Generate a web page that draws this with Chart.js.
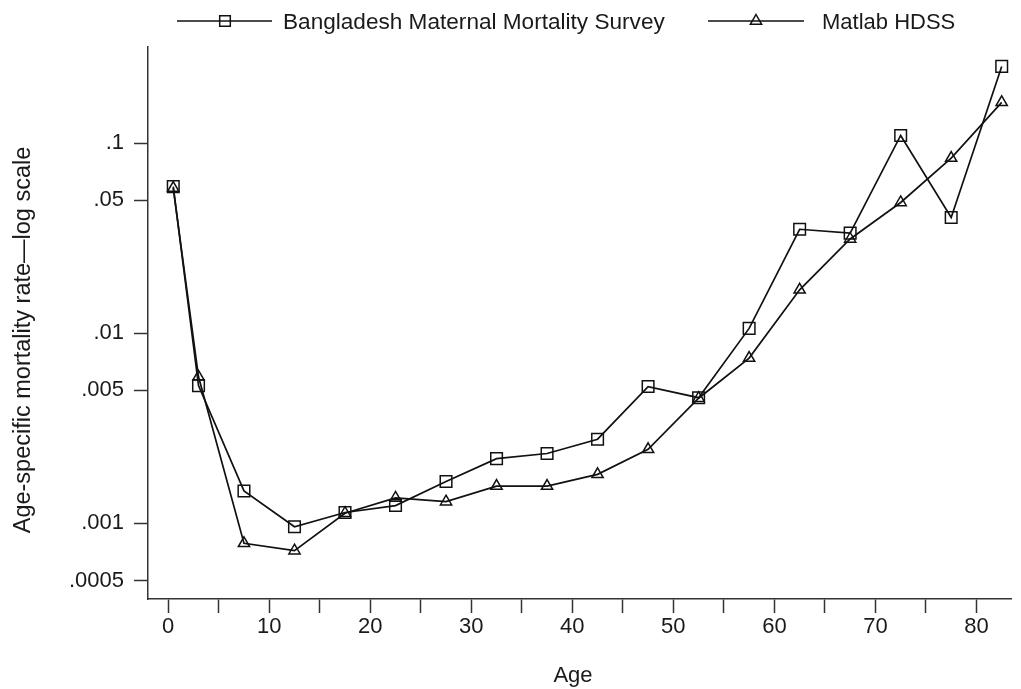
<!DOCTYPE html>
<html>
<head>
<meta charset="utf-8">
<script src="https://cdn.jsdelivr.net/npm/chart.js@4.4.1/dist/chart.umd.min.js"></script>
<style>
  html, body { margin: 0; padding: 0; background: #fff; }
  #wrap { width: 1021px; height: 689px; }
</style>
</head>
<body>
<div id="wrap"><canvas id="myChart"></canvas></div>
<script>
// data
const ages = [0.5, 3, 7.5, 12.5, 17.5, 22.5, 27.5, 32.5, 37.5, 42.5, 47.5, 52.5, 57.5, 62.5, 67.5, 72.5, 77.5, 82.5];
const bmmsRates = [0.059, 0.0053, 0.00148, 0.00096, 0.00114, 0.00124, 0.00166, 0.00219, 0.00233, 0.00277, 0.00524, 0.00458, 0.0106, 0.0352, 0.0336, 0.1096, 0.0406, 0.253];
const matlabRates = [0.058, 0.0059, 0.000785, 0.000718, 0.00113, 0.00136, 0.0013, 0.00157, 0.00157, 0.00181, 0.00245, 0.00455, 0.0074, 0.0169, 0.0313, 0.0487, 0.0834, 0.1637];
const seriesNames = ['Bangladesh Maternal Mortality Survey', 'Matlab HDSS'];
const xTicks = [0, 5, 10, 15, 20, 25, 30, 35, 40, 45, 50, 55, 60, 65, 70, 75, 80];
const yTicks = [0.0005, 0.001, 0.005, 0.01, 0.05, 0.1];
const yTickLabels = ['.0005', '.001', '.005', '.01', '.05', '.1'];
const xTitle = 'Age';
const yTitle = 'Age-specific mortality rate\u2014log scale';

const FONT_FAMILY = '"Liberation Sans", Arial, sans-serif';
const INK = '#1a1a1a';
const AXIS = '#333';

function toPoints(vals) {
  return ages.map(function(a, i) { return {x: a, y: vals[i]}; });
}

function marker(ctx, style, radius, x, y) {
  ctx.save();
  ctx.strokeStyle = '#111';
  ctx.fillStyle = 'rgba(0,0,0,0)';
  ctx.lineWidth = 1.5;
  Chart.helpers.drawPoint(ctx, {pointStyle: style, radius: radius, borderWidth: 1.5, rotation: 0}, x, y);
  ctx.restore();
}

// legend + axis titles, placed like the stata output
const extras = {
  id: 'extras',
  afterDraw(chart) {
    const ctx = chart.ctx;
    ctx.save();
    ctx.fillStyle = INK;

    // legend
    const items = [
      {x0: 177, x1: 272, mx: 225, style: 'rect', r: 7.5, tx: 283, size: 22.6},
      {x0: 708, x1: 804, mx: 756, style: 'triangle', r: 6.5, tx: 822, size: 22}
    ];
    items.forEach(function(it, i) {
      ctx.strokeStyle = '#111';
      ctx.lineWidth = 1.5;
      ctx.beginPath();
      ctx.moveTo(it.x0, 21);
      ctx.lineTo(it.x1, 21);
      ctx.stroke();
      marker(ctx, it.style, it.r, it.mx, 21);
      ctx.font = it.size + 'px ' + FONT_FAMILY;
      ctx.textAlign = 'left';
      ctx.textBaseline = 'alphabetic';
      ctx.fillText(seriesNames[i], it.tx, 29);
    });

    // x title
    ctx.font = '22px ' + FONT_FAMILY;
    ctx.textAlign = 'center';
    ctx.fillText(xTitle, 573, 682);

    // y title
    ctx.font = '23.5px ' + FONT_FAMILY;
    ctx.translate(30, 340);
    ctx.rotate(-Math.PI / 2);
    ctx.fillText(yTitle, 0, 0);
    ctx.restore();
  }
};

new Chart('myChart', {
  type: 'line',
  data: {
    datasets: [{
      label: seriesNames[0],
      data: toPoints(bmmsRates),
      borderColor: '#111',
      borderWidth: 1.7,
      pointStyle: 'rect',
      pointRadius: 8.2,
      pointBorderWidth: 1.5,
      pointBackgroundColor: 'rgba(0,0,0,0)',
      pointBorderColor: '#111',
      tension: 0,
      fill: false
    }, {
      label: seriesNames[1],
      data: toPoints(matlabRates),
      borderColor: '#111',
      borderWidth: 1.7,
      pointStyle: 'triangle',
      pointRadius: 6.5,
      pointBorderWidth: 1.5,
      pointBackgroundColor: 'rgba(0,0,0,0)',
      pointBorderColor: '#111',
      tension: 0,
      fill: false
    }]
  },
  options: {
    responsive: true,
    maintainAspectRatio: false,
    animation: false,
    layout: { padding: { top: 47, right: 0, left: 0, bottom: 0 } },
    plugins: {
      legend: { display: false },
      tooltip: { enabled: false }
    },
    scales: {
      x: {
        type: 'linear',
        min: -2,
        max: 83.45,
        afterBuildTicks: function(s) { s.ticks = xTicks.map(function(v) { return {value: v}; }); },
        afterFit: function(s) { s.height = 90; },
        ticks: {
          autoSkip: false,
          maxRotation: 0,
          padding: 1,
          color: INK,
          font: { family: FONT_FAMILY, size: 22 },
          callback: function(v) { return v % 10 === 0 ? String(v) : ''; }
        },
        grid: { drawOnChartArea: false, drawTicks: true, tickLength: 14, tickWidth: 1.5, tickColor: AXIS },
        border: { display: true, color: AXIS, width: 1.5 }
      },
      y: {
        type: 'logarithmic',
        min: 0.0004,
        max: 0.32,
        afterBuildTicks: function(s) { s.ticks = yTicks.map(function(v) { return {value: v}; }); },
        afterFit: function(s) { s.width = 148; },
        ticks: {
          autoSkip: false,
          padding: 10,
          color: INK,
          font: { family: FONT_FAMILY, size: 22 },
          callback: function(v, i) { return yTickLabels[i]; }
        },
        grid: { drawOnChartArea: false, drawTicks: true, tickLength: 14, tickWidth: 1.5, tickColor: AXIS },
        border: { display: true, color: AXIS, width: 1.5 }
      }
    }
  },
  plugins: [extras]
});
</script>
</body>
</html>
